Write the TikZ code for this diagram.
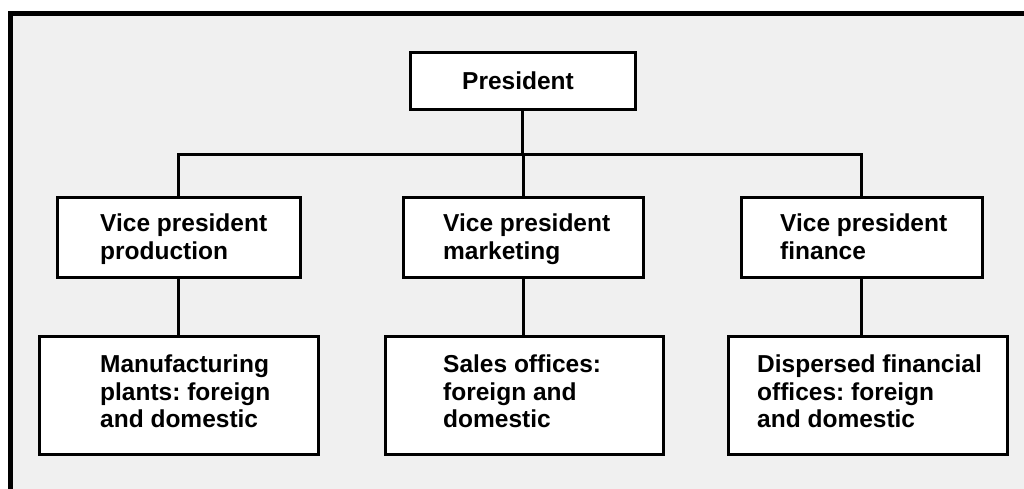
\documentclass[tikz,border=0pt]{standalone}
\usepackage{fontspec}
\setmainfont{Liberation Sans}
\frenchspacing
\begin{document}
\begin{tikzpicture}[x=1pt,y=1pt,
  boxstyle/.style={draw=black, line width=3pt, fill=white, inner sep=0pt},
  txt/.style={inner sep=0pt, anchor=base west, font=\fontsize{24.5}{27.5}\selectfont\bfseries},
  link/.style={draw=black, line width=3pt},
  framestyle/.style={draw=black, line width=5pt}]
\useasboundingbox (0,0) rectangle (1024,489);
% background
\fill[black!6] (10,0) rectangle (1024,475);
\draw[framestyle] (8,475) -- (1024,475);
\draw[framestyle] (10,477) -- (10,0);
% boxes
\node[boxstyle, minimum width=225pt, minimum height=57pt] (pres) at (522.5,407.5) {};
\node[boxstyle, minimum width=243pt, minimum height=80pt] (vpl) at (178.5,251) {};
\node[boxstyle, minimum width=240pt, minimum height=80pt] (vpm) at (523,251) {};
\node[boxstyle, minimum width=241pt, minimum height=80pt] (vpr) at (861.5,251) {};
\node[boxstyle, minimum width=279pt, minimum height=118pt] (bl) at (178.5,93) {};
\node[boxstyle, minimum width=278pt, minimum height=118pt] (bm) at (524,93) {};
\node[boxstyle, minimum width=279pt, minimum height=118pt] (br) at (867.5,93) {};
\coordinate (bar) at (522,334);
% connectors
\draw[link] (pres.south) -- (pres.south |- bar);
\draw[link] (vpl.north) |- (bar) -| (vpr.north);
\draw[link] (vpm.north) -- (vpm.north |- bar);
\draw[link] (vpl.south) -- (vpl.south |- bl.north);
\draw[link] (vpm.south) -- (vpm.south |- bm.north);
\draw[link] (vpr.south) -- (vpr.south |- br.north);
% texts
\node[txt] (tpres) at (462,399) {President};
\node[txt] (tvpl) at (100,257) {\begin{tabular}[t]{@{}l@{}}Vice president\\production\end{tabular}};
\node[txt] (tvpm) at (443,257) {\begin{tabular}[t]{@{}l@{}}Vice president\\marketing\end{tabular}};
\node[txt] (tvpr) at (780,257) {\begin{tabular}[t]{@{}l@{}}Vice president\\finance\end{tabular}};
\node[txt] (tbl) at (100,116) {\begin{tabular}[t]{@{}l@{}}Manufacturing\\plants: foreign\\and domestic\end{tabular}};
\node[txt] (tbm) at (443,116) {\begin{tabular}[t]{@{}l@{}}Sales offices:\\foreign and\\domestic\end{tabular}};
\node[txt] (tbr) at (757,116) {\begin{tabular}[t]{@{}l@{}}Dispersed financial\\offices: foreign\\and domestic\end{tabular}};
\end{tikzpicture}
\end{document}
